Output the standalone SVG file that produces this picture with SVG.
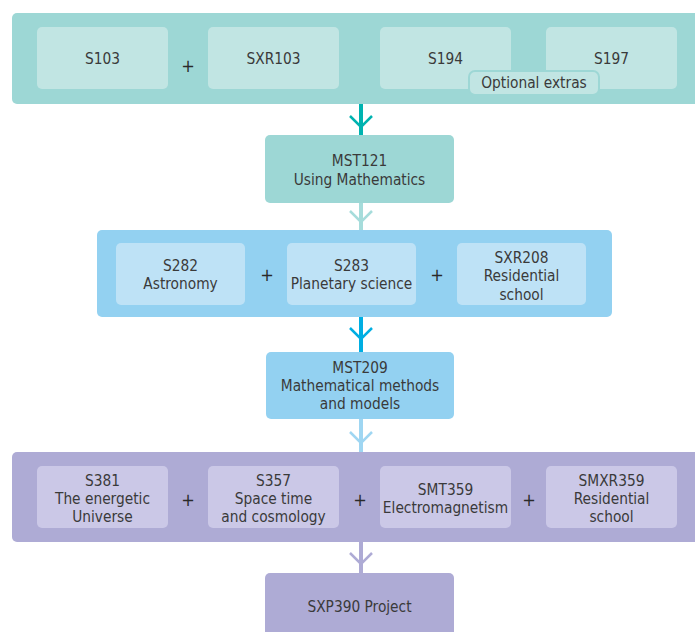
<svg xmlns="http://www.w3.org/2000/svg" width="695" height="632" viewBox="0 0 695 632">
<style>
text{font-family:"DejaVu Sans Condensed","DejaVu Sans","Liberation Sans",sans-serif;font-stretch:condensed;font-size:15.3px;fill:#3a3a3a;text-anchor:middle}
.plus{font-size:18px;fill:#2a2a2a}
.b1{fill:#9dd7d5}.i1{fill:#c1e5e3}
.b2{fill:#93d1f1}.i2{fill:#bee2f6}
.b3{fill:#aeabd5}.i3{fill:#cbc8e7}
.chev{fill:none;stroke-width:2.5}
</style>
<rect width="695" height="632" fill="#fff"/>
<g id="connectors">
<g stroke="#00b3b0"><line x1="361" y1="104" x2="361" y2="135" stroke-width="4"/><polyline class="chev" points="350,116 361,127 372,116"/></g>
<g stroke="#a6dcdb"><line x1="361" y1="203" x2="361" y2="230" stroke-width="4"/><polyline class="chev" points="350,211 361,222 372,211"/></g>
<g stroke="#00aee2"><line x1="361" y1="317" x2="361" y2="352" stroke-width="4"/><polyline class="chev" points="350,328 361,339 372,328"/></g>
<g stroke="#9fd6f2"><line x1="361" y1="419" x2="361" y2="452" stroke-width="4"/><polyline class="chev" points="350,432 361,443 372,432"/></g>
<g stroke="#aeabd5"><line x1="361" y1="542" x2="361" y2="573" stroke-width="4"/><polyline class="chev" points="350,553 361,564 372,553"/></g>
</g>
<g id="level1">
<rect class="b1" x="12" y="13" width="690" height="91" rx="5"/>
<g id="S103"><rect class="i1" x="37" y="27" width="131" height="62" rx="5"/><text x="102.5" y="64">S103</text></g>
<text class="plus" x="188" y="72">+</text>
<g id="SXR103"><rect class="i1" x="208" y="27" width="131" height="62" rx="5"/><text x="273.5" y="64">SXR103</text></g>
<g id="S194"><rect class="i1" x="380" y="27" width="131" height="62" rx="5"/><text x="445.5" y="64">S194</text></g>
<g id="S197"><rect class="i1" x="546" y="27" width="131" height="62" rx="5"/><text x="611.5" y="64">S197</text></g>
<g id="optional"><rect x="469" y="71" width="130" height="24" rx="6" fill="#c1e5e3" stroke="#9dd7d5" stroke-width="2"/><text x="534" y="88">Optional extras</text></g>
</g>
<g id="MST121"><rect class="b1" x="265" y="135" width="189" height="68" rx="5"/><text x="359.5" y="166">MST121</text><text x="359.5" y="185">Using Mathematics</text></g>
<g id="level2">
<rect class="b2" x="97" y="230" width="515" height="87" rx="5"/>
<g id="S282"><rect class="i2" x="116" y="243" width="129" height="62" rx="5"/><text x="180.5" y="271">S282</text><text x="180.5" y="289">Astronomy</text></g>
<text class="plus" x="267" y="281">+</text>
<g id="S283"><rect class="i2" x="287" y="243" width="129" height="62" rx="5"/><text x="351.5" y="271">S283</text><text x="351.5" y="289">Planetary science</text></g>
<text class="plus" x="437" y="281">+</text>
<g id="SXR208"><rect class="i2" x="457" y="243" width="129" height="62" rx="5"/><text x="521.5" y="263">SXR208</text><text x="521.5" y="281">Residential</text><text x="521.5" y="300">school</text></g>
</g>
<g id="MST209"><rect class="b2" x="266" y="352" width="188" height="67" rx="5"/><text x="360" y="373">MST209</text><text x="360" y="391">Mathematical methods</text><text x="360" y="409">and models</text></g>
<g id="level3">
<rect class="b3" x="12" y="452" width="690" height="90" rx="5"/>
<g id="S381"><rect class="i3" x="37" y="466" width="131" height="62" rx="5"/><text x="102.5" y="486">S381</text><text x="102.5" y="504">The energetic</text><text x="102.5" y="522">Universe</text></g>
<text class="plus" x="188" y="506">+</text>
<g id="S357"><rect class="i3" x="208" y="466" width="131" height="62" rx="5"/><text x="273.5" y="486">S357</text><text x="273.5" y="504">Space time</text><text x="273.5" y="522">and cosmology</text></g>
<text class="plus" x="360" y="506">+</text>
<g id="SMT359"><rect class="i3" x="380" y="466" width="131" height="62" rx="5"/><text x="445.5" y="495">SMT359</text><text x="445.5" y="513">Electromagnetism</text></g>
<text class="plus" x="529" y="506">+</text>
<g id="SMXR359"><rect class="i3" x="546" y="466" width="131" height="62" rx="5"/><text x="611.5" y="486">SMXR359</text><text x="611.5" y="504">Residential</text><text x="611.5" y="522">school</text></g>
</g>
<g id="SXP390"><rect class="b3" x="265" y="573" width="189" height="70" rx="5"/><text x="359.5" y="612">SXP390 Project</text></g>
</svg>
